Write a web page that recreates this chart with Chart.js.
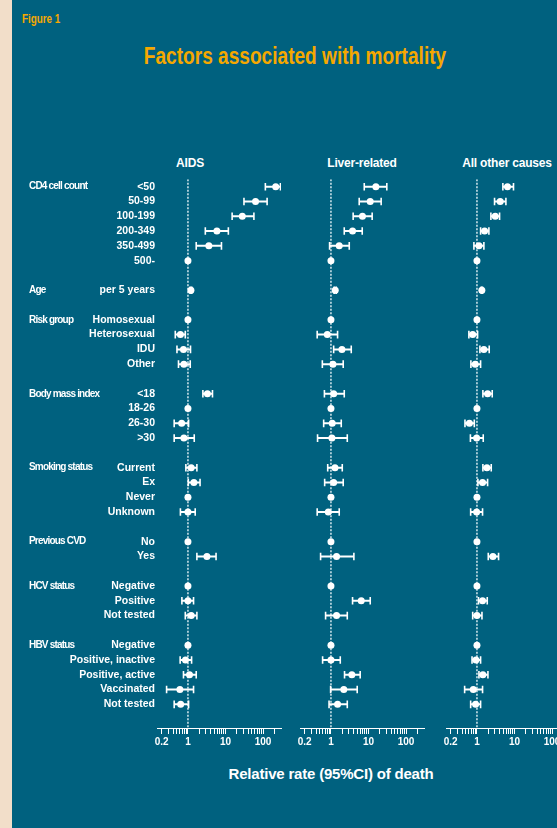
<!DOCTYPE html>
<html>
<head>
<meta charset="utf-8">
<script src="https://cdn.jsdelivr.net/npm/chart.js@4.4.1/dist/chart.umd.min.js"></script>
<style>
  body { margin: 0; width: 557px; height: 828px; background: #00617f; overflow: hidden; position: relative;
         font-family: "Liberation Sans", Arial, sans-serif; color: #fff; }
  #strip { position: absolute; left: 0; top: 0; width: 12px; height: 828px; background: #f2dec9; }
  #fig { position: absolute; left: 22px; top: 13px; font-size: 12px; line-height: 12px; font-weight: bold;
         color: #f5a800; transform: scaleX(0.82); transform-origin: left center; white-space: nowrap; }
  #title { position: absolute; left: 295px; top: 45px; font-size: 23px; line-height: 23px; font-weight: bold;
           color: #f5a800; transform: translateX(-50%) scaleX(0.83); white-space: nowrap; }
  .head { position: absolute; top: 156.5px; font-size: 12px; line-height: 12px; font-weight: bold;
          transform: translateX(-50%); white-space: nowrap; letter-spacing: -0.2px; }
  .pane { position: absolute; top: 150px; }
  #xlabel { position: absolute; left: 331px; top: 766px; font-size: 15px; line-height: 15px; font-weight: bold;
            transform: translateX(-50%); white-space: nowrap; letter-spacing: -0.2px; }
</style>
</head>
<body>
<div id="strip"></div>
<div id="fig">Figure 1</div>
<div id="title">Factors associated with mortality</div>
<div class="head" id="h0" style="left:190px"></div>
<div class="head" id="h1" style="left:362px"></div>
<div class="head" id="h2" style="left:507px"></div>
<div class="pane" style="left:0px"><canvas id="c0" width="290" height="600"></canvas></div>
<div class="pane" style="left:290px"><canvas id="c1" width="145" height="600"></canvas></div>
<div class="pane" style="left:436px"><canvas id="c2" width="145" height="600"></canvas></div>
<div id="xlabel">Relative rate (95%CI) of death</div>
<script>
// rows top to bottom, '' = blank spacer row
var rowLabels = ['<50', '50-99', '100-199', '200-349', '350-499', '500-', '',
    'per 5 years', '',
    'Homosexual', 'Heterosexual', 'IDU', 'Other', '',
    '<18', '18-26', '26-30', '>30', '',
    'Current', 'Ex', 'Never', 'Unknown', '',
    'No', 'Yes', '',
    'Negative', 'Positive', 'Not tested', '',
    'Negative', 'Positive, inactive', 'Positive, active', 'Vaccinated', 'Not tested'];

var groupNames = ['CD4 cell count', 'Age', 'Risk group', 'Body mass index', 'Smoking status',
    'Previous CVD', 'HCV status', 'HBV status'];
var groupRows = [0, 7, 9, 14, 19, 24, 27, 31];

var panelTitles = ['AIDS', 'Liver-related', 'All other causes'];

var xTickValues = [0.2, 0.3, 0.4, 0.5, 0.6, 0.7, 0.8, 0.9, 1, 2, 3, 4, 5, 6, 7, 8, 9,
    10, 20, 30, 40, 50, 60, 70, 80, 90, 100, 200];
var xLabelValues = [0.2, 1, 10, 100];
var xLabelTexts = ['0.2', '1', '10', '100'];

// relative rates and 95% CI, null = no estimate / reference group without CI
var aidsRR = [217, 63, 28, 5.9, 3.6, 1, null, 1.2, null, 1, 0.63, 0.76, 0.78, null,
    3.3, 1, 0.68, 0.78, null, 1.22, 1.44, 1, 1.0, null, 1, 3.2, null, 1, 1.0, 1.22, null,
    1, 0.86, 1.1, 0.61, 0.64];
var aidsLo = [115, 31, 15, 2.9, 1.66, null, null, 1.14, null, null, 0.46, 0.51, 0.56, null,
    2.5, null, 0.43, 0.43, null, 0.88, 1.02, null, 0.63, null, null, 1.73, null, null, 0.69, 0.85, null,
    null, 0.62, 0.76, 0.27, 0.43];
var aidsHi = [290, 128, 57, 11.9, 7.8, null, null, 1.26, null, null, 0.85, 1.17, 1.15, null,
    4.5, null, 1.04, 1.47, null, 1.73, 2.1, null, 1.56, null, null, 5.6, null, null, 1.41, 1.73, null,
    null, 1.25, 1.66, 1.41, 1.04];

var liverRR = [15.7, 11.1, 6.9, 3.76, 1.66, 1, null, 1.3, null, 1, 0.8, 1.96, 1.13, null,
    1.18, 1, 1.08, 1.06, null, 1.28, 1.18, 1, 0.85, null, 1, 1.41, null, 1, 6.4, 1.41, null,
    1, 1.0, 3.6, 2.2, 1.5];
var liverLo = [7.7, 5.65, 3.9, 2.26, 0.92, null, null, 1.22, null, null, 0.43, 1.18, 0.59, null,
    0.67, null, 0.64, 0.44, null, 0.82, 0.68, null, 0.43, null, null, 0.53, null, null, 3.76, 0.72, null,
    null, 0.6, 2.3, 0.98, 0.89];
var liverHi = [30.7, 21.7, 12.5, 6.8, 3.07, null, null, 1.38, null, null, 1.5, 3.47, 2.12, null,
    2.26, null, 1.88, 2.72, null, 2.0, 2.12, null, 1.66, null, null, 4.08, null, null, 11.1, 2.72, null,
    null, 1.77, 6.0, 5.0, 2.72];

var otherRR = [6.5, 4.16, 3.07, 1.6, 1.13, 1, null, 1.35, null, 1, 0.77, 1.53, 0.9, null,
    1.92, 1, 0.63, 0.98, null, 1.84, 1.41, 1, 0.98, null, 1, 2.66, null, 1, 1.41, 1.0, null,
    1, 0.94, 1.44, 0.8, 0.92];
var otherLo = [4.9, 2.94, 2.35, 1.25, 0.83, null, null, 1.3, null, null, 0.61, 1.2, 0.69, null,
    1.44, null, 0.48, 0.67, null, 1.44, 1.06, null, 0.68, null, null, 2.0, null, null, 1.1, 0.77, null,
    null, 0.74, 1.13, 0.47, 0.68];
var otherHi = [9.4, 5.9, 4.0, 2.08, 1.53, null, null, 1.4, null, null, 1.04, 2.12, 1.25, null,
    2.55, null, 0.85, 1.47, null, 2.4, 1.92, null, 1.41, null, null, 3.76, null, null, 1.88, 1.36, null,
    null, 1.25, 1.96, 1.41, 1.25];

var white = '#ffffff';
var refColor = 'rgba(225,238,243,0.9)';

// draws the group names at the left of the first panel
var groupLabelPlugin = {
    id: 'groupLabels',
    afterDraw: function (chart) {
        var ctx = chart.ctx;
        var ys = chart.scales.y;
        ctx.save();
        ctx.fillStyle = white;
        ctx.font = 'bold 10px "Liberation Sans", Arial, sans-serif';
        ctx.letterSpacing = '-0.8px';
        ctx.textBaseline = 'middle';
        ctx.textAlign = 'left';
        groupNames.forEach(function (g, k) {
            ctx.fillText(g, 29, ys.getPixelForValue(groupRows[k]));
        });
        ctx.restore();
    }
};

function makePanel(canvasId, rr, lo, hi, first, pad) {
    var pts = [], ci = [], caps = [];
    rr.forEach(function (v, i) {
        if (v === null) return;
        pts.push({ x: v, y: i });
        if (lo[i] !== null) {
            ci.push({ x: lo[i], y: i }, { x: hi[i], y: i }, { x: null, y: null });
            caps.push({ x: lo[i], y: i }, { x: hi[i], y: i });
        }
    });
    var refLine = [{ x: 1, y: -0.5 }, { x: 1, y: 36.6 }];

    var ctx = document.getElementById(canvasId).getContext('2d');
    return new Chart(ctx, {
        type: 'scatter',
        data: {
            datasets: [
                { data: pts, pointRadius: 3.5, pointBackgroundColor: white, pointBorderWidth: 0 },
                { data: caps, pointStyle: 'line', rotation: 90, pointRadius: 3.8,
                  pointBorderColor: white, pointBorderWidth: 1.6 },
                { data: ci, showLine: true, spanGaps: false, borderColor: white, borderWidth: 2, pointRadius: 0 },
                { data: refLine, showLine: true, borderColor: refColor, borderWidth: 1.6,
                  borderDash: [2, 1.5], pointRadius: 0 }
            ]
        },
        plugins: first ? [groupLabelPlugin] : [],
        options: {
            responsive: false,
            animation: false,
            layout: { padding: pad },
            plugins: { legend: { display: false }, tooltip: { enabled: false } },
            scales: {
                x: {
                    type: 'logarithmic',
                    min: 0.15,
                    max: 300,
                    afterBuildTicks: function (s) {
                        s.ticks = xTickValues.map(function (v) { return { value: v }; });
                    },
                    afterFit: function (s) { s.height = 20; },
                    grid: { drawOnChartArea: false, drawTicks: true, tickLength: 6, color: white, lineWidth: 1 },
                    border: { display: true, color: white, width: 1 },
                    ticks: {
                        autoSkip: false,
                        maxRotation: 0,
                        padding: 2,
                        color: white,
                        font: { family: '"Liberation Sans", Arial, sans-serif', size: 10, weight: 'bold' },
                        callback: function (v) {
                            var k = xLabelValues.indexOf(v);
                            return k >= 0 ? xLabelTexts[k] : '';
                        }
                    }
                },
                y: {
                    type: 'linear',
                    reverse: true,
                    min: -0.5,
                    max: 36.6,
                    display: first,
                    afterBuildTicks: function (s) {
                        s.ticks = rowLabels.map(function (t, i) { return { value: i }; });
                    },
                    afterFit: function (s) { s.width = first ? 157 : 0; },
                    grid: { display: false, drawTicks: false },
                    border: { display: false },
                    ticks: {
                        autoSkip: false,
                        padding: 2,
                        color: white,
                        font: { family: '"Liberation Sans", Arial, sans-serif', size: 10.5, weight: 'bold' },
                        callback: function (v) { return rowLabels[v]; }
                    }
                }
            }
        }
    });
}

panelTitles.forEach(function (t, k) {
    document.getElementById('h' + k).textContent = t;
});

makePanel('c0', aidsRR, aidsLo, aidsHi, true, { left: 0, right: 9, top: 29.3, bottom: 2 });
makePanel('c1', liverRR, liverLo, liverHi, false, { left: 10, right: 11, top: 29.3, bottom: 2 });
makePanel('c2', otherRR, otherLo, otherHi, false, { left: 10, right: 11, top: 29.3, bottom: 2 });
</script>
</body>
</html>
